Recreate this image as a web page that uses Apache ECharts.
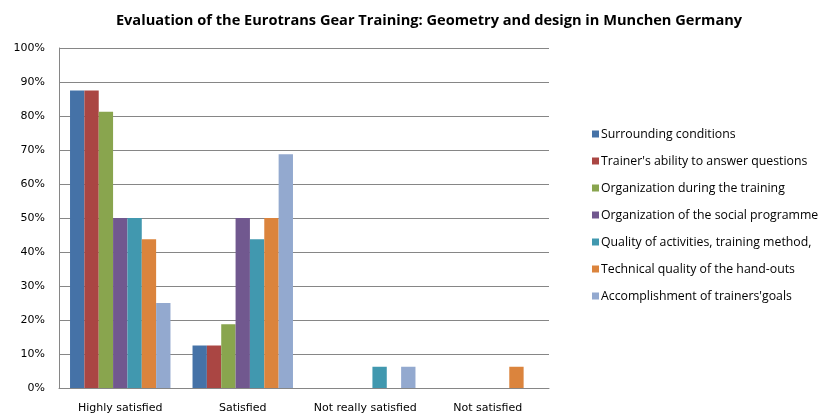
<!DOCTYPE html>
<html><head><meta charset="utf-8">
<script src="https://cdn.jsdelivr.net/npm/echarts@6/dist/echarts.min.js"></script>
<style>html,body{margin:0;padding:0;background:#fff}#c{width:826px;height:414px}</style>
</head><body><div id="c"></div>
<script>
const categories = ["Highly satisfied", "Satisfied", "Not really satisfied", "Not satisfied"];
const seriesNames = ["Surrounding conditions", "Trainer's ability to answer questions", "Organization during the training", "Organization of the social programme", "Quality of activities, training method,", "Technical quality of the hand-outs", "Accomplishment of trainers'goals"];
const surrounding = [87.5, 12.5, 0, 0];
const trainerAbility = [87.5, 12.5, 0, 0];
const organizationTraining = [81.25, 18.75, 0, 0];
const organizationSocial = [50, 50, 0, 0];
const qualityActivities = [50, 43.75, 6.25, 0];
const technicalQuality = [43.75, 50, 0, 6.25];
const accomplishment = [25, 68.75, 6.25, 0];
const yTicks = [0, 10, 20, 30, 40, 50, 60, 70, 80, 90, 100];
const colors = ["#4572A7", "#AA4643", "#89A54E", "#71588F", "#4198AF", "#DB843D", "#93A9CF"];
const allData = [surrounding, trainerAbility, organizationTraining, organizationSocial, qualityActivities, technicalQuality, accomplishment];

const chart = echarts.init(document.getElementById('c'), null, {renderer: 'canvas'});
chart.setOption({
  animation: false,
  color: colors,
  title: {
    text: "Evaluation of the Eurotrans Gear Training: Geometry and design in Munchen Germany",
    left: 424, top: 8, textAlign: 'center',
    textStyle: {fontFamily: 'Open Sans', fontWeight: 'bold', fontSize: 14.6, color: '#000'}
  },
  grid: {left: 59, top: 48, width: 490, height: 340, containLabel: false},
  legend: {
    orient: 'vertical', left: 587, top: 122,
    itemWidth: 7, itemHeight: 7, itemGap: 13, icon: 'rect',
    textStyle: {fontFamily: 'Open Sans', fontSize: 12.3, color: '#000', padding: [0,0,0,-3], lineHeight: 14},
    data: seriesNames
  },
  xAxis: {
    type: 'category', data: categories,
    axisLine: {lineStyle: {color: '#868686'}},
    axisTick: {show: false},
    axisLabel: {fontFamily: 'DejaVu Sans', fontSize: 11, color: '#000', margin: 15, interval: 0}
  },
  yAxis: {
    type: 'value', min: 0, max: 100, interval: 10,
    axisLine: {show: true, lineStyle: {color: '#868686'}},
    axisTick: {show: false},
    splitLine: {lineStyle: {color: '#868686'}},
    axisLabel: {fontFamily: 'DejaVu Sans', fontSize: 11, color: '#000', margin: 14,
      formatter: v => yTicks.includes(v) ? v + '%' : ''}
  },
  series: seriesNames.map((n, i) => ({
    name: n, type: 'bar', data: allData[i],
    barGap: '0%', barCategoryGap: '18%'
  }))
});
</script></body></html>
